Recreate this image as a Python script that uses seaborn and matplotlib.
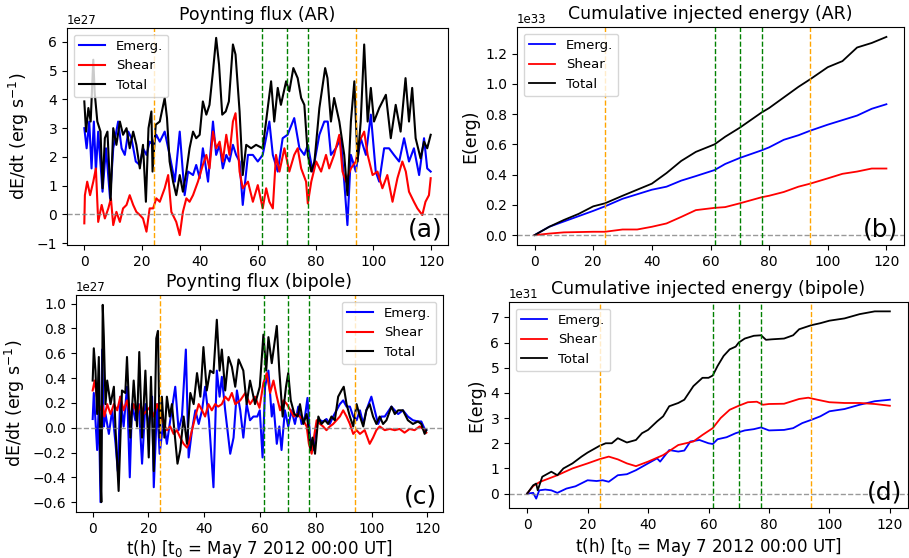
import numpy as np
import pandas as pd
import matplotlib
matplotlib.use("Agg")
import matplotlib.pyplot as plt
import seaborn as sns

# (t [h], value) samples
# Poynting flux (AR), units of 1e27 erg/s
ar_emerg = [(0, 3.0), (0.8, 2.3), (1.7, 3.23), (2.5, 1.6), (3.3, 3.23), (4.0, 1.49), (4.8, 2.88), (6.3, 0.79),
            (7.5, 2.3), (8.9, 0.56), (10.0, 2.3), (11.7, 3.23), (12.9, 2.3), (14.0, 2.07), (15.2, 2.88), (16.3, 2.65),
            (17.8, 1.84), (19.2, 1.72), (20.3, 2.3), (21.5, 2.07), (22.6, 2.53), (23.8, 2.42), (24.9, 2.77),
            (26.1, 2.53), (27.8, 2.88), (29.5, 2.07), (31.3, 1.14), (33.0, 2.88), (34.7, 0.67), (35.9, 1.49),
            (37.6, 1.37), (38.7, 1.72), (39.9, 1.26), (41.0, 2.3), (42.8, 1.14), (44.5, 3.23), (45.6, 2.07),
            (46.8, 2.42), (47.9, 1.6), (49.1, 2.07), (50.2, 1.84), (51.4, 2.42), (52.5, 2.07), (53.7, 1.84),
            (54.8, 0.33), (56.6, 2.07), (58.3, 2.07), (60.0, 1.84), (61.7, 2.07), (64.0, 3.23), (65.2, 2.07),
            (66.9, 1.49), (68.6, 2.65), (70.3, 2.77), (72.6, 3.35), (74.4, 2.3), (76.1, 2.07), (77.3, 2.42),
            (79.0, 1.49), (81.3, 2.77), (83.0, 3.23), (84.2, 3.23), (85.3, 2.07), (87.0, 2.3), (88.7, 2.65),
            (89.9, 1.14), (91.0, -0.37), (92.2, 2.07), (93.9, 1.49), (95.6, 2.65), (97.4, 2.07), (99.1, 3.47),
            (100.8, 1.49), (102.0, 1.14), (103.7, 2.3), (105.4, 2.3), (107.1, 2.07), (108.9, 1.84), (110.6, 2.65),
            (112.3, 1.84), (114.0, 2.3), (115.8, 1.37), (117.5, 2.65), (118.6, 1.6), (119.8, 1.49)]
ar_shear = [(0, -0.31), (0.2, 0.67), (1.0, 1.14), (2.0, 0.67), (3.1, 1.14), (4.0, 1.6), (4.8, -0.26), (6.0, 0.33),
            (7.1, -0.14), (8.3, 0.21), (9.2, 0.56), (10.0, -0.37), (11.1, 0.09), (12.3, -0.26), (13.4, 0.21),
            (14.6, 0.33), (15.7, 0.67), (16.9, 0.33), (18.0, 0.09), (19.2, -0.02), (20.3, -0.14), (21.5, -0.6),
            (22.6, 0.21), (23.8, 0.21), (24.9, 0.56), (26.1, 0.44), (27.8, 0.91), (29.0, 1.37), (30.1, 0.09),
            (31.8, -0.26), (33.0, -0.72), (34.1, 0.09), (35.3, 0.56), (36.4, 0.44), (37.6, 0.67), (39.3, 1.14),
            (41.0, 1.72), (42.2, 2.07), (43.3, 1.6), (44.5, 2.88), (45.6, 2.3), (46.8, 2.53), (47.9, 1.84),
            (49.1, 2.77), (50.2, 2.07), (51.4, 3.23), (52.3, 3.52), (53.7, 1.49), (54.8, 0.91), (56.6, 1.14),
            (58.3, 0.44), (60.0, 1.02), (61.7, 0.21), (62.9, 0.91), (64.0, 0.44), (65.2, 0.21), (66.3, 2.07),
            (67.5, 1.49), (69.2, 2.3), (70.9, 1.49), (72.6, 2.07), (73.8, 2.3), (75.0, 1.6), (76.7, 1.14),
            (77.3, 0.38), (78.5, 1.14), (80.2, 1.84), (81.9, 1.49), (83.6, 2.07), (84.7, 1.6), (86.4, 2.07),
            (88.2, 2.77), (89.3, 1.49), (90.5, 1.14), (92.2, 1.6), (93.9, 1.84), (95.1, 2.53), (96.8, 2.88),
            (98.0, 2.07), (99.7, 1.37), (101.4, 1.49), (103.1, 0.91), (104.8, 1.37), (106.6, 0.44), (108.3, 1.26),
            (110.0, 1.84), (111.2, 1.49), (112.3, 0.79), (114.0, 0.44), (115.2, 0.21), (116.9, -0.02),
            (118.0, 0.44), (119.2, 0.67), (119.8, 1.26)]
ar_total = [(0, 3.93), (0.6, 2.88), (1.4, 3.7), (2.2, 3.23), (3.1, 5.38), (3.6, 4.22), (4.5, 3.23), (5.6, 2.88),
            (6.3, 0.91), (7.1, 2.65), (8.0, 2.88), (9.1, 0.5), (10.0, 3.0), (11.1, 2.42), (12.3, 3.23), (13.4, 2.77),
            (14.6, 3.0), (15.7, 2.3), (16.9, 2.88), (18.0, 2.42), (19.2, 1.6), (20.3, 2.42), (21.3, 0.44),
            (22.2, 3.0), (23.2, 3.58), (23.6, 1.49), (24.7, 3.12), (26.1, 3.23), (27.8, 4.05), (28.6, 3.35),
            (29.5, 1.84), (30.7, 1.14), (31.8, 0.67), (33.0, 1.37), (34.1, 0.79), (35.3, 1.49), (36.4, 2.3),
            (37.6, 2.88), (38.7, 2.65), (39.9, 2.77), (41.0, 3.93), (42.2, 3.47), (43.3, 3.81), (44.5, 4.98),
            (45.6, 6.14), (46.6, 5.21), (47.7, 3.47), (48.9, 3.58), (50.0, 3.93), (51.4, 5.91), (52.3, 5.56),
            (53.7, 3.58), (54.8, 1.37), (56.0, 2.42), (57.7, 2.3), (59.4, 2.42), (61.7, 2.3), (64.6, 4.63),
            (65.7, 3.23), (66.9, 4.4), (68.0, 3.81), (69.8, 4.63), (70.9, 4.28), (72.3, 5.09), (73.8, 4.74),
            (75.0, 4.05), (76.1, 3.81), (77.3, 2.07), (78.5, 1.49), (79.6, 1.84), (81.3, 3.7), (83.3, 5.09),
            (84.1, 4.74), (85.3, 3.23), (86.4, 4.05), (88.2, 3.23), (89.9, 2.07), (91.0, 0.67), (92.2, 3.23),
            (93.4, 4.63), (94.5, 1.84), (95.6, 3.23), (96.8, 5.91), (98.0, 3.23), (99.1, 4.4), (100.2, 3.23),
            (102.0, 3.7), (104.3, 4.16), (106.0, 2.65), (107.7, 3.81), (109.4, 2.88), (111.1, 4.74), (112.3, 3.23),
            (113.4, 4.4), (114.6, 2.65), (116.3, 1.95), (117.5, 2.53), (118.6, 2.3), (119.8, 2.77)]

# Cumulative injected energy (AR), units of 1e33 erg
ar_cum_emerg = [(0, 0), (5, 0.055), (10, 0.09), (20, 0.16), (24, 0.19), (30, 0.24), (35, 0.27), (40, 0.30),
                (45, 0.32), (50, 0.36), (55, 0.39), (61.4, 0.43), (65, 0.47), (70, 0.51), (77.4, 0.56), (80, 0.58),
                (85, 0.63), (90, 0.66), (94, 0.69), (100, 0.73), (105, 0.76), (110, 0.79), (115, 0.835),
                (120, 0.865)]
ar_cum_shear = [(0, 0), (5, 0.01), (10, 0.018), (20, 0.022), (24, 0.022), (30, 0.037), (35, 0.037), (40, 0.055),
                (45, 0.077), (50, 0.12), (55, 0.165), (61.4, 0.18), (65, 0.185), (70, 0.21), (77.4, 0.25),
                (80, 0.26), (85, 0.285), (90, 0.32), (94, 0.34), (100, 0.375), (105, 0.405), (110, 0.42),
                (115, 0.44), (120, 0.44)]
ar_cum_total = [(0, 0), (5, 0.055), (10, 0.10), (15, 0.14), (20, 0.19), (24, 0.21), (30, 0.26), (35, 0.30),
                (40, 0.34), (45, 0.41), (50, 0.49), (55, 0.55), (61.4, 0.60), (65, 0.65), (70, 0.71), (77.4, 0.81),
                (80, 0.84), (85, 0.91), (90, 0.98), (94, 1.03), (100, 1.11), (105, 1.15), (110, 1.24), (115, 1.27),
                (120, 1.31)]

# Poynting flux (bipole), units of 1e27 erg/s
bip_emerg = [(0, 0.07), (0.4, 0.28), (1.0, 0.06), (1.6, -0.18), (2.2, 0.19), (2.8, -0.6), (3.4, 0.63), (4.0, 0.01),
             (4.6, 0.11), (5.8, -0.05), (7.0, 0.14), (8.2, -0.13), (9.0, -0.35), (9.9, 0.25), (11.1, 0.01),
             (12.3, 0.33), (13.3, -0.40), (14.1, 0.19), (15.3, 0.06), (16.5, 0.19), (17.7, -0.29), (18.9, 0.19),
             (20.1, 0.01), (21.3, 0.25), (21.9, -0.48), (23.1, 0.19), (24.0, -0.21), (25.4, 0.06), (26.6, -0.13),
             (27.8, 0.06), (29.6, 0.33), (30.8, -0.02), (32.0, 0.09), (33.4, 0.63), (34.4, -0.24), (35.6, -0.02),
             (36.8, 0.14), (38.0, 0.03), (39.2, 0.14), (40.3, 0.33), (41.7, 0.06), (43.3, -0.48), (44.5, 0.46),
             (45.5, 0.25), (46.3, 0.41), (47.5, 0.14), (49.3, -0.21), (50.5, -0.08), (51.7, 0.30), (52.9, 0.14),
             (54.0, -0.08), (55.2, 0.19), (56.4, 0.06), (57.6, 0.09), (59.0, 0.09), (59.9, 0.14), (60.9, -0.24),
             (61.8, 0.33), (63.0, 0.46), (64.2, 0.09), (64.8, 0.19), (66.0, -0.13), (66.9, 0.01), (67.7, -0.18),
             (68.9, 0.14), (70.1, 0.01), (71.3, 0.14), (72.5, 0.03), (73.7, 0.17), (74.9, 0.03), (76.1, 0.09),
             (77.0, 0.24), (77.9, -0.08), (79.0, -0.18), (80.3, 0.03), (81.5, 0.06), (82.6, 0.05), (83.8, 0.07),
             (85.0, 0.03), (86.2, 0.09), (87.4, 0.14), (88.6, 0.19), (89.8, 0.22), (91.0, 0.17), (92.2, 0.17),
             (93.4, 0.09), (94.6, 0.06), (95.8, 0.14), (97.0, 0.03), (98.1, 0.14), (99.9, 0.25), (101.1, 0.14),
             (102.3, 0.03), (103.5, 0.09), (104.7, 0.09), (107.1, 0.17), (108.3, 0.14), (109.5, 0.11),
             (111.2, 0.14), (113.0, 0.09), (114.8, 0.06), (116.6, 0.05), (117.8, 0.05), (119.0, -0.01),
             (119.6, -0.02)]
bip_shear = [(0, 0.30), (0.7, 0.38), (1.5, 0.25), (2.5, 0.14), (3.4, 0.19), (4.2, 0.09), (5.2, 0.19), (6.4, 0.11),
             (7.6, 0.19), (8.8, 0.14), (9.9, 0.25), (11.1, 0.14), (12.3, 0.22), (13.5, 0.09), (14.7, 0.19),
             (15.9, 0.11), (17.1, 0.19), (18.3, 0.11), (19.5, 0.14), (20.7, 0.17), (21.9, 0.09), (23.1, 0.19),
             (24.3, 0.11), (25.5, 0.03), (26.6, -0.02), (27.8, 0.01), (29.0, -0.05), (30.2, -0.02), (31.4, -0.08),
             (32.6, -0.13), (33.8, -0.16), (34.4, -0.13), (35.6, -0.02), (36.8, 0.09), (38.0, 0.19), (39.2, 0.14),
             (40.3, 0.09), (41.5, 0.19), (42.7, 0.14), (43.9, 0.19), (45.0, 0.17), (46.3, 0.19), (47.5, 0.25),
             (48.7, 0.22), (49.9, 0.28), (51.1, 0.19), (52.9, 0.22), (54.7, 0.28), (56.4, 0.19), (58.2, 0.25),
             (59.8, 0.16), (61.2, 0.36), (62.4, 0.44), (63.6, 0.28), (64.8, 0.38), (66.0, 0.25), (67.2, 0.14),
             (68.4, 0.22), (69.6, 0.19), (70.9, 0.14), (72.1, 0.09), (73.3, 0.11), (74.3, 0.09), (75.5, 0.06),
             (76.7, 0.01), (77.5, -0.13), (78.5, -0.21), (79.3, -0.08), (80.3, 0.06), (81.5, 0.03), (82.6, 0.01),
             (83.8, -0.02), (85.0, 0.01), (86.2, 0.03), (87.4, 0.06), (88.6, 0.09), (89.8, 0.14), (91.0, 0.09),
             (92.2, 0.03), (93.4, -0.05), (94.6, -0.02), (95.8, -0.05), (97.5, -0.02), (99.3, -0.13),
             (100.5, -0.08), (101.7, -0.02), (102.9, 0.01), (104.7, -0.02), (106.5, -0.01), (108.3, -0.02),
             (110.0, -0.01), (111.8, -0.04), (113.6, -0.01), (115.4, -0.02), (117.2, 0.01), (118.4, -0.01),
             (119.6, -0.04)]
bip_total = [(0, 0.38), (0.4, 0.64), (1.0, 0.46), (1.6, 0.11), (2.2, 0.57), (2.8, -0.40), (3.1, -0.6), (3.6, 0.99),
             (4.0, 0.73), (4.6, 0.19), (5.2, 0.38), (6.4, 0.19), (7.6, 0.33), (8.2, -0.02), (9.3, -0.51),
             (10.5, 0.30), (11.7, 0.28), (12.3, 0.57), (13.5, -0.08), (14.7, 0.38), (15.9, 0.01), (16.7, 0.61),
             (17.7, -0.08), (18.9, 0.46), (20.1, -0.24), (20.9, 0.41), (21.9, -0.35), (22.8, 0.72), (23.4, 0.78),
             (24.0, -0.08), (24.8, 0.25), (25.7, -0.08), (26.6, 0.25), (27.6, 0.09), (28.4, 0.19), (29.6, -0.1),
             (30.4, -0.29), (31.4, -0.18), (32.6, 0.09), (33.8, -0.13), (35.0, 0.28), (36.2, 0.19), (37.4, 0.44),
             (38.6, 0.25), (39.7, 0.65), (40.9, 0.30), (42.1, 0.46), (43.3, 0.44), (44.5, 0.87), (45.5, 0.46),
             (46.3, 0.63), (47.5, 0.30), (48.7, 0.57), (49.9, 0.49), (51.1, 0.33), (52.3, 0.55), (54.0, 0.46),
             (55.2, 0.19), (56.4, 0.38), (58.2, 0.19), (59.9, 0.33), (61.2, 0.75), (62.2, 0.46), (63.0, 0.73),
             (64.2, 0.52), (66.0, 0.82), (66.9, 0.46), (68.1, 0.09), (69.3, 0.33), (70.1, 0.44), (71.0, 0.22),
             (72.3, 0.11), (73.5, 0.09), (74.3, 0.19), (75.5, 0.03), (76.7, 0.11), (77.3, 0.01), (78.1, -0.18),
             (78.8, -0.08), (79.7, -0.21), (80.9, 0.09), (82.0, 0.03), (83.3, 0.06), (84.4, 0.03), (85.6, 0.09),
             (86.8, 0.06), (88.0, 0.25), (89.2, 0.30), (90.0, 0.33), (91.0, 0.19), (92.2, 0.09), (93.4, 0.01),
             (94.6, 0.19), (95.8, 0.09), (97.0, 0.01), (98.1, 0.14), (99.3, 0.19), (100.5, 0.09), (101.7, 0.03),
             (102.9, 0.09), (104.1, 0.03), (105.3, 0.06), (107.1, 0.17), (108.3, 0.11), (109.5, 0.14),
             (111.2, 0.14), (113.0, 0.06), (114.8, 0.03), (116.6, 0.05), (117.8, 0.03), (119.0, -0.05),
             (119.6, -0.02)]

# Cumulative injected energy (bipole), units of 1e31 erg
bip_cum_emerg = [(0, 0), (2, 0.03), (3, -0.2), (4, 0.13), (6, 0.16), (8, 0.13), (10, 0.03), (13, 0.2), (16, 0.29),
                 (20, 0.53), (23, 0.5), (25, 0.53), (27, 0.47), (30, 0.73), (33, 0.77), (36, 0.93), (40, 1.2),
                 (43, 1.4), (44, 1.27), (47, 1.73), (50, 1.67), (52, 1.71), (54, 2.07), (57, 2.13), (60, 2.0),
                 (61.4, 1.97), (63, 2.16), (66, 2.24), (69, 2.4), (72, 2.51), (75, 2.56), (77.4, 2.63), (80, 2.51),
                 (85, 2.53), (88, 2.6), (91, 2.8), (94, 2.93), (97, 3.07), (100, 3.27), (105, 3.36), (110, 3.53),
                 (115, 3.67), (120, 3.73)]
bip_cum_shear = [(0, 0), (2, 0.3), (4, 0.45), (5, 0.5), (10, 0.73), (15, 1.0), (20, 1.2), (24, 1.37), (27, 1.47),
                 (30, 1.36), (33, 1.2), (36, 1.09), (40, 1.27), (45, 1.53), (50, 1.93), (55, 2.07), (58, 2.33),
                 (61.4, 2.6), (64, 3.0), (67, 3.33), (70, 3.49), (73, 3.63), (76, 3.65), (78, 3.53), (80, 3.56),
                 (85, 3.57), (90, 3.76), (93, 3.81), (96, 3.73), (100, 3.63), (105, 3.6), (110, 3.6), (115, 3.56),
                 (120, 3.49)]
bip_cum_total = [(0, 0), (2, 0.33), (3, 0.4), (3.5, 0.13), (5, 0.67), (8, 0.87), (10, 0.73), (12, 1.0), (15, 1.2),
                 (18, 1.47), (20, 1.63), (24, 1.9), (26, 2.0), (28, 2.0), (30, 2.2), (33, 2.03), (36, 2.13),
                 (38, 2.4), (40, 2.53), (43, 2.87), (45, 3.07), (47, 3.47), (50, 3.6), (52, 3.73), (55, 4.27),
                 (58, 4.6), (60, 4.6), (61.4, 4.69), (63, 5.07), (65, 5.47), (67, 5.73), (69, 5.84), (70, 6.0),
                 (72, 6.16), (75, 6.27), (77.4, 6.29), (79, 6.11), (81, 6.13), (85, 6.16), (88, 6.29), (90, 6.53),
                 (94, 6.69), (97, 6.77), (100, 6.87), (105, 6.96), (110, 7.13), (115, 7.24), (120, 7.24)]

series_names = ["Emerg.", "Shear", "Total"]
series_colors = ["blue", "red", "black"]
orange_times = [24, 94]
green_times = [61.4, 70, 77.4]


def draw_panel(ax, series, scale, title, ylabel, letter, legend_loc, lw, yticks):
    for data, name, color in zip(series, series_names, series_colors):
        arr = np.array(data)
        df = pd.DataFrame({"t": arr[:, 0], "v": arr[:, 1] * scale})
        sns.lineplot(data=df, x="t", y="v", color=color, label=name, ax=ax,
                     estimator=None, linewidth=lw)
    ax.axhline(0, color="gray", linestyle="--", linewidth=1, alpha=0.8)
    for t in orange_times:
        ax.axvline(t, color="orange", linestyle="--", linewidth=1)
    for t in green_times:
        ax.axvline(t, color="green", linestyle="--", linewidth=1)
    ax.set_title(title, fontsize=12.5)
    ax.set_ylabel(ylabel, fontsize=12.5)
    ax.set_xlabel("")
    ax.set_xticks([0, 20, 40, 60, 80, 100, 120])
    ax.set_yticks(np.array(yticks) * scale)
    ax.tick_params(labelsize=10)
    ax.yaxis.get_offset_text().set_fontsize(8.5)
    ax.legend(loc=legend_loc, fontsize=9.5)
    ax.text(0.985, 0.015, letter, transform=ax.transAxes, ha="right", va="bottom", fontsize=18)


W, H = 909, 558
fig = plt.figure(figsize=(W / 100, H / 100), dpi=100)


def box(x0, y0, x1, y1):
    return [x0 / W, 1 - y1 / H, (x1 - x0) / W, (y1 - y0) / H]


ax_a = fig.add_axes(box(67, 28, 448, 245))
ax_b = fig.add_axes(box(517, 27, 904, 245))
ax_c = fig.add_axes(box(76, 295, 443, 512))
ax_d = fig.add_axes(box(509, 302, 908, 508))

ylab_flux = "dE/dt (erg s$^{-1}$)"
draw_panel(ax_a, [ar_emerg, ar_shear, ar_total], 1e27, "Poynting flux (AR)", ylab_flux, "(a)",
           "upper left", 1.5, np.arange(-1, 7))
draw_panel(ax_b, [ar_cum_emerg, ar_cum_shear, ar_cum_total], 1e33, "Cumulative injected energy (AR)",
           "E(erg)", "(b)", "upper left", 1.3, np.arange(0, 1.21, 0.2))
draw_panel(ax_c, [bip_emerg, bip_shear, bip_total], 1e27, "Poynting flux (bipole)", ylab_flux, "(c)",
           "upper right", 1.5, np.arange(-0.6, 1.01, 0.2))
draw_panel(ax_d, [bip_cum_emerg, bip_cum_shear, bip_cum_total], 1e31, "Cumulative injected energy (bipole)",
           "E(erg)", "(d)", "upper left", 1.3, np.arange(0, 8))

xlab = "t(h) [t$_0$ = May 7 2012 00:00 UT]"
ax_c.set_xlabel(xlab, fontsize=12, labelpad=1.5)
ax_d.set_xlabel(xlab, fontsize=12, labelpad=3)

fig.savefig("out.png", dpi=100)
